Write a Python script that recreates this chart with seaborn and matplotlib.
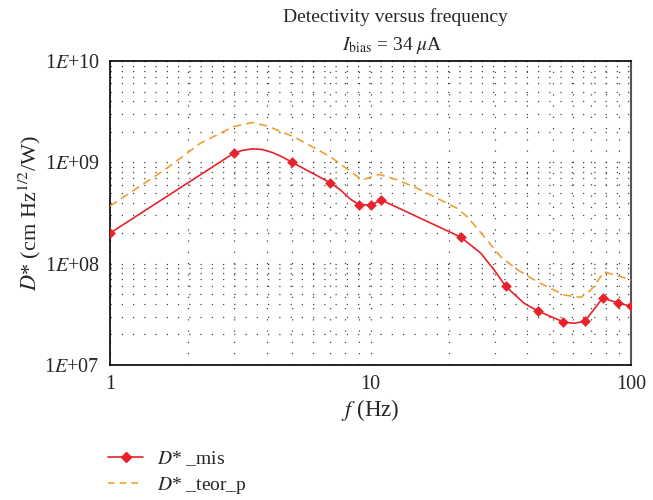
import numpy as np
import pandas as pd
import matplotlib
matplotlib.use("Agg")
import matplotlib.pyplot as plt
from matplotlib.lines import Line2D
import seaborn as sns

# measured points (markers)
f_mis = [1, 3, 5, 7, 9, 10, 11, 22.2, 33, 44, 55, 66.5, 78, 89, 100]
d_mis = [2.0e8, 1.24e9, 1.0e9, 6.3e8, 3.8e8, 3.8e8, 4.25e8, 1.83e8, 6.0e7, 3.4e7, 2.66e7, 2.7e7, 4.6e7, 4.1e7, 3.8e7]

# red smoothed curve
f_mis_line = [1, 3, 3.22, 3.52, 3.84, 4.2, 4.59, 5, 7, 7.67, 8.38, 9, 10, 11, 22.2, 26.5, 29.8,
              33, 38.9, 44, 55, 60.5, 66.5, 78, 89, 100]
d_mis_line = [2.0e8, 1.24e9, 1.31e9, 1.36e9, 1.34e9, 1.25e9, 1.13e9, 1.0e9, 6.3e8, 5.34e8, 4.32e8,
              3.85e8, 3.78e8, 4.25e8, 1.83e8, 1.27e8, 8.7e7, 6.0e7, 4.06e7, 3.4e7, 2.66e7, 2.58e7,
              2.7e7, 4.6e7, 4.1e7, 3.8e7]

# orange dashed curve (theory)
f_teor = [1, 1.65, 2.22, 2.98, 3.51, 4.0, 5.07, 7.0, 9.29, 10.8, 12.7, 15.1, 21.5, 23.5, 27.3, 31.6,
          36.7, 43.8, 55.4, 64.2, 70.2, 78.9, 88.9, 100]
d_teor = [3.7e8, 8.7e8, 1.54e9, 2.25e9, 2.47e9, 2.29e9, 1.79e9, 1.14e9, 6.7e8, 7.6e8, 6.7e8, 5.55e8,
          3.52e8, 2.91e8, 1.85e8, 1.17e8, 8.7e7, 6.6e7, 4.9e7, 4.66e7, 5.5e7, 8.3e7, 7.6e7, 6.9e7]

x_ticks = [1, 10, 100]
x_tick_labels = ["1", "10", "100"]
y_ticks = [1e7, 1e8, 1e9, 1e10]
y_tick_labels = ["1$E$+07", "1$E$+08", "1$E$+09", "1$E$+10"]

sns.set_style("white")
plt.rcParams["font.family"] = ["Liberation Serif", "DejaVu Serif"]
plt.rcParams["mathtext.fontset"] = "stix"

RED = "#e8212b"
ORANGE = "#f0a032"

fig = plt.figure(figsize=(6.53, 5.0), dpi=100)
ax = fig.add_axes([110 / 653, 135 / 500, 521 / 653, 304 / 500])

df_mis_line = pd.DataFrame({"f": f_mis_line, "d": d_mis_line})
df_mis = pd.DataFrame({"f": f_mis, "d": d_mis})
df_teor = pd.DataFrame({"f": f_teor, "d": d_teor})

sns.lineplot(data=df_teor, x="f", y="d", ax=ax, color=ORANGE, lw=1.2,
             linestyle=(0, (5, 3)), sort=False, zorder=3)
sns.lineplot(data=df_mis_line, x="f", y="d", ax=ax, color=RED, lw=1.2, sort=False, zorder=4)
sns.scatterplot(data=df_mis, x="f", y="d", ax=ax, color=RED, marker="D", s=30,
                edgecolor=RED, linewidth=0, zorder=5)

ax.set_xscale("log")
ax.set_yscale("log")
ax.set_xlim(1, 100)
ax.set_ylim(1e7, 1e10)
ax.set_xticks(x_ticks)
ax.set_xticklabels(x_tick_labels)
ax.set_yticks(y_ticks)
ax.set_yticklabels(y_tick_labels)
ax.tick_params(axis="both", which="major", labelsize=14.5, length=4, direction="out",
               color="black", width=1)
ax.tick_params(axis="both", which="minor", length=0)
ax.grid(True, which="both", axis="both", color="#444444", linestyle=(0, (1, 8)), lw=0.9)

for s in ["left", "bottom", "top"]:
    ax.spines[s].set_color("black")
    ax.spines[s].set_linewidth(1.2)
ax.spines["right"].set_color("#555555")
ax.spines["right"].set_linewidth(1.5)

ax.set_xlabel("$f$ (Hz)", fontsize=16.5, labelpad=2)
ax.set_ylabel("$D$* (cm Hz$^{1/2}$/W)", fontsize=16, labelpad=1)
fig.text(395 / 653, 1 - 17 / 500, "Detectivity versus frequency", fontsize=14,
         ha="center", va="center")
fig.text(392 / 653, 1 - 45 / 500, "$I_{\\mathrm{bias}}$ = 34 $\\mu$A", fontsize=14,
         ha="center", va="center")

handles = [Line2D([], [], color=RED, lw=1.2, marker="D", markersize=5),
           Line2D([], [], color=ORANGE, lw=1.2, linestyle=(0, (4, 3)))]
labels = ["$D$* _mis", "$D$* _teor_p"]
fig.legend(handles, labels, loc="upper left", bbox_to_anchor=(108 / 653, 1 - 449 / 500),
           frameon=False, fontsize=14, handlelength=1.8, handletextpad=0.7,
           labelspacing=0.35, borderaxespad=0, borderpad=0)

fig.savefig("out.png", dpi=100)
